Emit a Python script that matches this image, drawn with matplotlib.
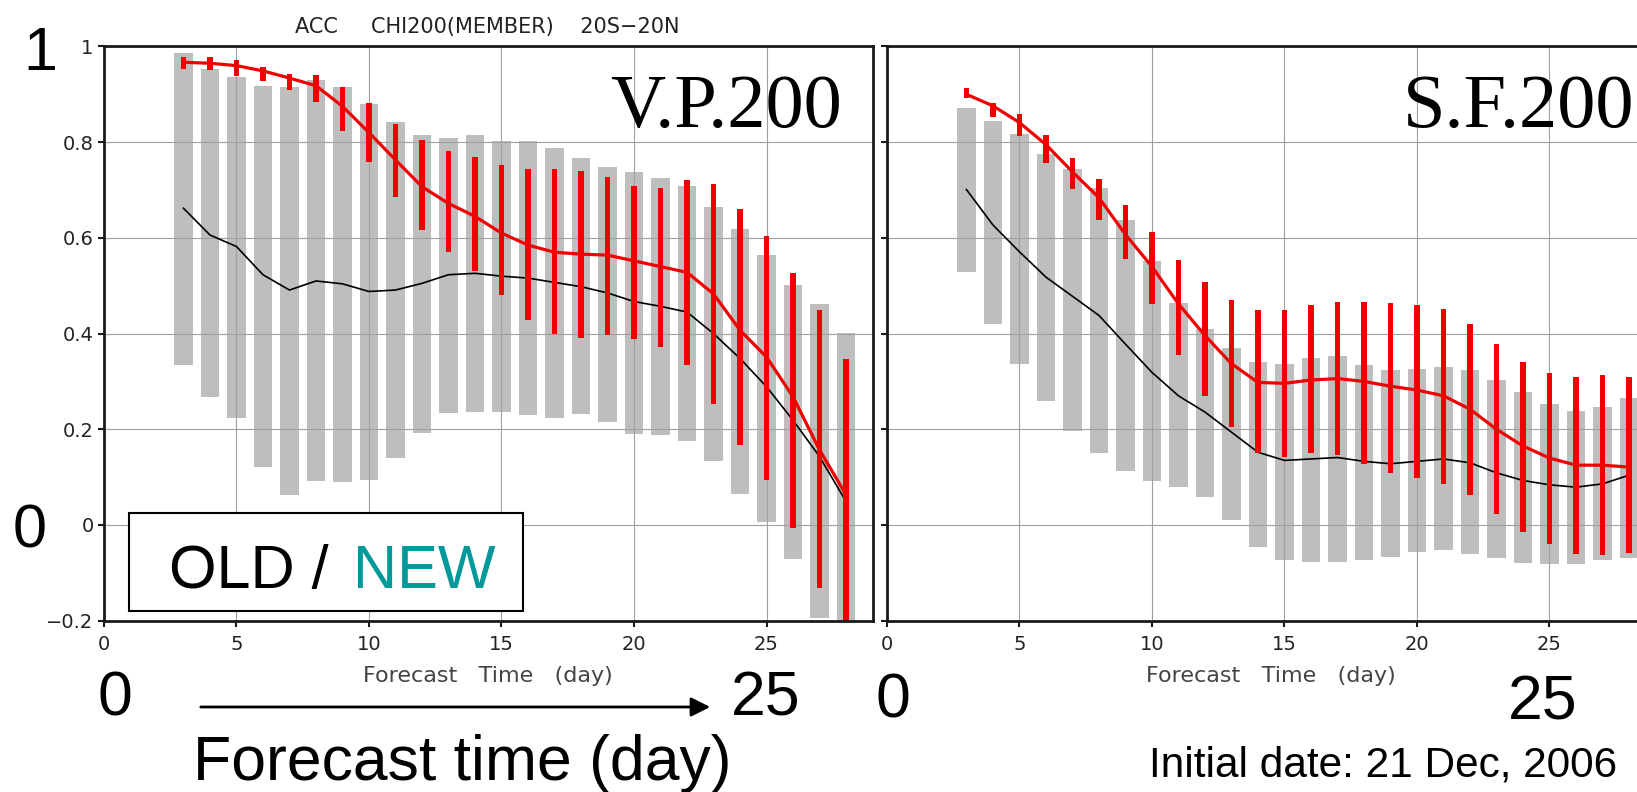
import matplotlib
matplotlib.use('Agg')
import matplotlib.pyplot as plt
from matplotlib.patches import Rectangle, FancyArrowPatch

# forecast days shown in both panels
days = list(range(3, 29))

# V.P.200 (velocity potential), left panel
vp_gray_lo = [0.335, 0.267, 0.223, 0.121, 0.063, 0.091, 0.089, 0.095, 0.141, 0.192, 0.233, 0.236, 0.236,
              0.229, 0.224, 0.231, 0.216, 0.190, 0.188, 0.176, 0.133, 0.065, 0.006, -0.072, -0.194, -0.21]
vp_gray_hi = [0.987, 0.954, 0.936, 0.917, 0.915, 0.930, 0.916, 0.880, 0.842, 0.815, 0.809, 0.815, 0.803,
              0.803, 0.787, 0.766, 0.749, 0.737, 0.725, 0.708, 0.665, 0.618, 0.564, 0.502, 0.461, 0.401]
vp_red_lo = [0.954, 0.950, 0.939, 0.927, 0.909, 0.883, 0.823, 0.758, 0.686, 0.616, 0.571, 0.530, 0.481,
             0.428, 0.400, 0.390, 0.397, 0.388, 0.373, 0.335, 0.253, 0.167, 0.094, -0.006, -0.131, -0.21]
vp_red_hi = [0.979, 0.977, 0.972, 0.958, 0.943, 0.941, 0.916, 0.881, 0.838, 0.805, 0.782, 0.770, 0.753,
             0.744, 0.744, 0.740, 0.728, 0.708, 0.705, 0.721, 0.712, 0.660, 0.603, 0.527, 0.450, 0.347]
vp_new = [0.967, 0.965, 0.960, 0.949, 0.934, 0.918, 0.875, 0.820, 0.763, 0.707, 0.672, 0.645, 0.610,
          0.585, 0.570, 0.566, 0.564, 0.552, 0.540, 0.528, 0.483, 0.407, 0.351, 0.268, 0.157, 0.063]
vp_old = [0.662, 0.606, 0.582, 0.523, 0.491, 0.510, 0.504, 0.488, 0.491, 0.505, 0.523, 0.526, 0.520,
          0.516, 0.507, 0.498, 0.485, 0.467, 0.457, 0.445, 0.400, 0.348, 0.289, 0.219, 0.143, 0.049]

# S.F.200 (stream function), right panel
sf_gray_lo = [0.529, 0.419, 0.336, 0.260, 0.197, 0.150, 0.112, 0.091, 0.079, 0.058, 0.011, -0.046, -0.074,
              -0.077, -0.077, -0.074, -0.067, -0.056, -0.053, -0.061, -0.070, -0.079, -0.081, -0.081, -0.074, -0.070]
sf_gray_hi = [0.871, 0.844, 0.817, 0.776, 0.745, 0.705, 0.638, 0.551, 0.463, 0.410, 0.370, 0.340, 0.336,
              0.349, 0.354, 0.335, 0.323, 0.325, 0.330, 0.323, 0.302, 0.277, 0.253, 0.239, 0.247, 0.265]
sf_red_lo = [0.893, 0.852, 0.813, 0.757, 0.702, 0.638, 0.556, 0.461, 0.355, 0.270, 0.204, 0.150, 0.143,
             0.150, 0.146, 0.128, 0.109, 0.098, 0.086, 0.062, 0.022, -0.015, -0.040, -0.061, -0.063, -0.058]
sf_red_hi = [0.913, 0.882, 0.858, 0.816, 0.767, 0.723, 0.668, 0.613, 0.554, 0.507, 0.470, 0.449, 0.449,
             0.460, 0.467, 0.466, 0.463, 0.459, 0.451, 0.421, 0.378, 0.341, 0.317, 0.310, 0.313, 0.309]
sf_new = [0.900, 0.876, 0.841, 0.795, 0.738, 0.684, 0.607, 0.540, 0.462, 0.396, 0.337, 0.298, 0.296,
          0.303, 0.306, 0.300, 0.290, 0.282, 0.270, 0.242, 0.200, 0.165, 0.140, 0.125, 0.125, 0.121]
sf_old = [0.701, 0.627, 0.571, 0.518, 0.478, 0.438, 0.378, 0.319, 0.270, 0.236, 0.194, 0.152, 0.135,
          0.138, 0.141, 0.133, 0.128, 0.133, 0.138, 0.130, 0.109, 0.093, 0.084, 0.079, 0.086, 0.104]

x_ticks = [0, 5, 10, 15, 20, 25]
y_ticks = [-0.2, 0, 0.2, 0.4, 0.6, 0.8, 1]
y_tick_labels = ['\u22120.2', '0', '0.2', '0.4', '0.6', '0.8', '1']

W, H = 1637, 792
GRAY = '#bebebe'
RED = '#f00000'
TEAL = '#009999'


def px(x, y):
    # pixel position (from top-left) -> figure fraction
    return x / W, 1 - y / H


def draw_panel(ax, gray_lo, gray_hi, red_lo, red_hi, new, old, show_ylabels):
    ax.bar(days, [h - l for l, h in zip(gray_lo, gray_hi)], bottom=gray_lo, width=0.7,
           color=GRAY, zorder=1)
    ax.plot(days, old, color='black', lw=1.2, zorder=3)
    ax.bar(days, [h - l for l, h in zip(red_lo, red_hi)], bottom=red_lo, width=0.21,
           color=RED, zorder=4)
    ax.plot(days, new, color=RED, lw=2.3, zorder=5)

    ax.set_xlim(0, 29)
    ax.set_ylim(-0.2, 1)
    ax.set_xticks(x_ticks)
    ax.set_yticks(y_ticks)
    ax.grid(True, color='#a0a0a0', lw=0.8)
    ax.set_axisbelow(False)
    for line in ax.get_xgridlines() + ax.get_ygridlines():
        line.set_zorder(2)
    for s in ax.spines.values():
        s.set_linewidth(2.0)
        s.set_color('#1a1a1a')
        s.set_zorder(6)
    ax.tick_params(axis='both', direction='out', length=4, width=1.5, color='#1a1a1a',
                   labelsize=14, labelcolor='#222222')
    ax.tick_params(axis='x', pad=6)
    if show_ylabels:
        ax.set_yticklabels(y_tick_labels)
    else:
        ax.set_yticklabels([])
    ax.set_xlabel('Forecast   Time   (day)', fontsize=16, color='#444444', labelpad=9)


fig = plt.figure(figsize=(W / 100, H / 100), dpi=100)
ax1 = fig.add_axes([0.0635, 0.2163, 0.4695, 0.725])
ax2 = fig.add_axes([0.5418, 0.2163, 0.4695, 0.725])

draw_panel(ax1, vp_gray_lo, vp_gray_hi, vp_red_lo, vp_red_hi, vp_new, vp_old, True)
draw_panel(ax2, sf_gray_lo, sf_gray_hi, sf_red_lo, sf_red_hi, sf_new, sf_old, False)

fig.text(*px(487, 33), 'ACC     CHI200(MEMBER)    20S\u221220N', fontsize=15, color='#222222',
         ha='center', va='baseline')

serif = 'Liberation Serif'
sans = 'Liberation Sans'
fig.text(*px(842, 127), 'V.P.200', family=serif, fontsize=55, ha='right', va='baseline')
fig.text(*px(1634, 127), 'S.F.200', family=serif, fontsize=55, ha='right', va='baseline')

# big hand-made axis annotations
fig.text(*px(40, 70), '1', family=sans, fontsize=44, ha='center', va='baseline')
fig.text(*px(30, 548), '0', family=sans, fontsize=44, ha='center', va='baseline')
fig.text(*px(115, 715), '0', family=sans, fontsize=45, ha='center', va='baseline')
fig.text(*px(766, 715), '25', family=sans, fontsize=45, ha='center', va='baseline')
fig.text(*px(893, 718), '0', family=sans, fontsize=45, ha='center', va='baseline')
fig.text(*px(1543, 720), '25', family=sans, fontsize=45, ha='center', va='baseline')
fig.text(*px(462, 780), 'Forecast time (day)', family=sans, fontsize=45, ha='center', va='baseline')
fig.text(*px(1149, 777), 'Initial date: 21 Dec, 2006', family=sans, fontsize=30.5,
         ha='left', va='baseline')

arrow = FancyArrowPatch(px(198, 707), px(713, 707), transform=fig.transFigure,
                        arrowstyle='-|>,head_length=0.4,head_width=0.2', mutation_scale=29,
                        lw=2, color='black')
fig.add_artist(arrow)

# OLD / NEW legend box
x0, y0 = px(129, 611)
x1, y1 = px(523, 513)
fig.add_artist(Rectangle((x0, y0), x1 - x0, y1 - y0, transform=fig.transFigure,
                         facecolor='white', edgecolor='black', lw=1.5, zorder=8))
fig.text(*px(329, 588), 'OLD /', family=sans, fontsize=44, ha='right', va='baseline', zorder=9)
fig.text(*px(353, 588), 'NEW', family=sans, fontsize=44, color=TEAL, ha='left', va='baseline', zorder=9)

fig.savefig('out.png', dpi=100)
